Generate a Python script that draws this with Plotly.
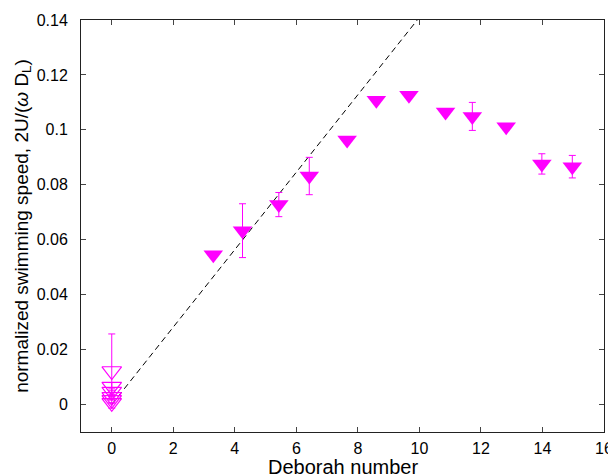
import plotly.graph_objects as go

# Filled symbols (viscoelastic fluid)
de_filled = [3.30, 4.25, 5.43, 6.42, 7.65, 8.60, 9.66, 10.85, 11.72, 12.82, 13.98, 14.97]
u_filled = [0.0545, 0.0633, 0.0728, 0.0832, 0.0963, 0.1108, 0.1126, 0.1065, 0.1049, 0.1011, 0.0876, 0.0866]
err_filled = [0.0, 0.0098, 0.0044, 0.0068, 0.0, 0.0, 0.0, 0.0, 0.0051, 0.0, 0.0037, 0.0041]

# Open symbols (Newtonian, De = 0)
de_open = [0, 0, 0, 0, 0, 0]
u_open = [0.0122, 0.0065, 0.0047, 0.0028, 0.0017, 0.0006]
err_open = [0.0135, 0.0015, 0.001, 0.0, 0.0, 0.0]

# Dashed guide line
line_x = [0, 9.93]
line_y = [0, 0.14]

x_title = "Deborah number"
y_title = "normalized swimming speed, 2U/(<i>ω</i> D<sub>L</sub>)"

MAG = "#ff00ff"
fig = go.Figure()
fig.add_trace(go.Scatter(x=line_x, y=line_y, mode="lines",
                         line=dict(color="black", width=1, dash="6px,4px"),
                         showlegend=False, hoverinfo="skip"))
fig.add_trace(go.Scatter(x=de_open, y=u_open, mode="markers",
                         marker=dict(symbol="triangle-down-open", size=17, color=MAG,
                                     line=dict(width=1.2, color=MAG)),
                         error_y=dict(type="data", array=err_open, color=MAG,
                                      thickness=1, width=3.5),
                         showlegend=False))
fig.add_trace(go.Scatter(x=de_filled, y=u_filled, mode="markers",
                         marker=dict(symbol="triangle-down", size=17, color=MAG,
                                     line=dict(width=0)),
                         error_y=dict(type="data", array=err_filled, color=MAG,
                                      thickness=1, width=3.5),
                         showlegend=False))

axis_common = dict(showline=True, linecolor="#222", linewidth=1, mirror="ticks",
                   ticks="inside", ticklen=5, tickcolor="#444", showgrid=False,
                   zeroline=False, automargin=False,
                   tickfont=dict(size=16, color="black"))
fig.update_xaxes(range=[-1, 16], tick0=0, dtick=2, ticklabelstandoff=2, **axis_common)
fig.update_yaxes(range=[-0.01, 0.14], tick0=0, dtick=0.02, ticklabelstandoff=9,
                 title=dict(text=y_title, font=dict(size=19, color="black"), standoff=3),
                 **axis_common)
fig.add_annotation(text=x_title, xref="paper", yref="paper", x=0.5, y=0,
                   xanchor="center", yanchor="top", yshift=-22, showarrow=False,
                   font=dict(size=20, color="black"))
# page body has an 8px margin, so the figure is 8px smaller than the window
fig.update_layout(width=608, height=466, plot_bgcolor="white", paper_bgcolor="white",
                  margin=dict(l=73, r=12, t=12, b=42),
                  font=dict(family="Liberation Sans, Arial, sans-serif", color="black"))
fig.write_html("out.html")
